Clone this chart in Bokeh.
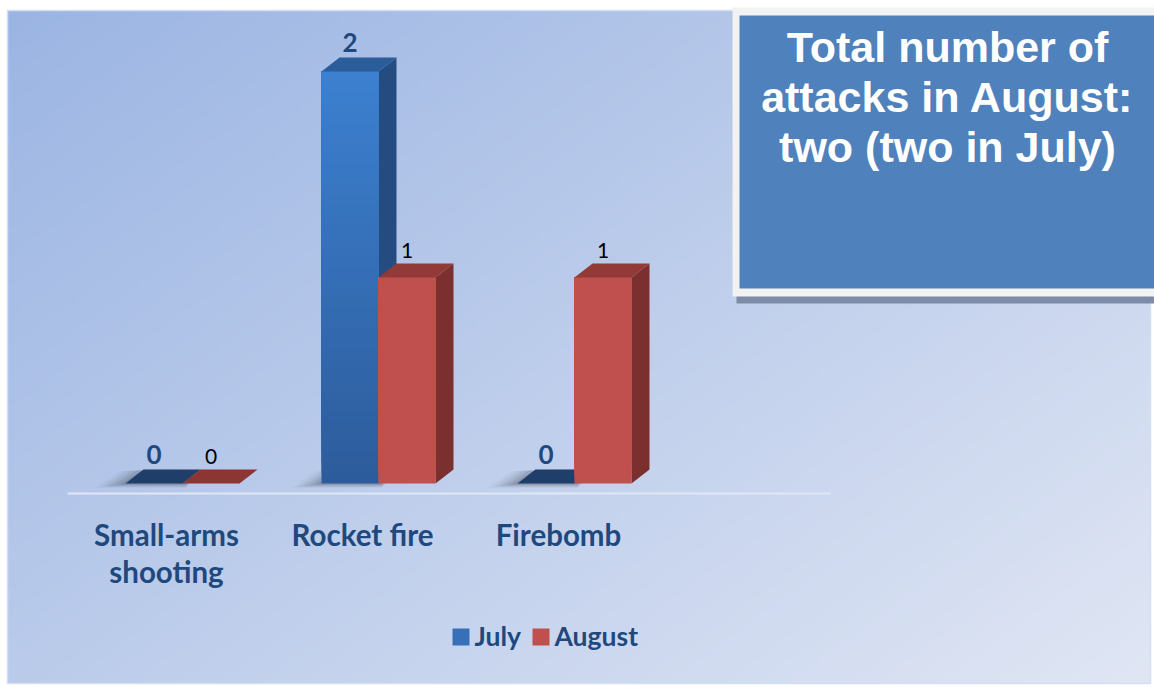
import numpy as np
from bokeh.plotting import figure
from bokeh.embed import file_html
from bokeh.resources import INLINE
from bokeh.core.properties import value

# ---------------- data ----------------
categories = ["Small-arms\nshooting", "Rocket fire", "Firebomb"]
series_names = ["July", "August"]
july = [0, 2, 0]
august = [0, 1, 1]
title_lines = ["Total number of", "attacks in August:", "two (two in July)"]

# ---------------- layout helpers ----------------
W, H = 1154, 687
PX_X = 196.0   # pixels per category
PX_Y = 206.0   # pixels per attack
XS = -182.0 / PX_X
XE = XS + W / PX_X
YE = 483.0 / PX_Y
YS = YE - H / PX_Y
K = 0.36       # baseline correction (fraction of font size)


def X(px):
    return XS + px / PX_X


def Y(py):
    return YE - py / PX_Y


def dpx(n):
    return n / PX_X


def dpy(n):
    return n / PX_Y


def YT(py, size):
    """y position for text whose alphabetic baseline should sit at pixel py"""
    return Y(py - K * size)


p = figure(width=W, height=H, x_range=(XS, XE), y_range=(YS, YE),
           output_backend="svg", toolbar_location=None, min_border=0,
           background_fill_color="white", border_fill_color="white")
p.axis.visible = False
p.grid.visible = False
p.outline_line_color = None

# ---------------- background gradient ----------------
gh, gw = 140, 240
img = np.empty((gh, gw), dtype=np.uint32)
view = img.view(dtype=np.uint8).reshape((gh, gw, 4))
c0 = np.array([155, 181, 227], dtype=float)
c1 = np.array([224, 230, 244], dtype=float)
u = np.linspace(0, 1, gw)[None, :]
v = (1 - np.linspace(0, 1, gh))[:, None]
t = np.clip(0.55 * u + 0.45 * v, 0, 1)
for k in range(3):
    view[:, :, k] = (c0[k] + (c1[k] - c0[k]) * t).astype(np.uint8)
view[:, :, 3] = 255
x0b, x1b, y0b, y1b = X(7), X(1150), Y(683), Y(10)
p.image_rgba(image=[img], x=x0b, y=y0b, dw=x1b - x0b, dh=y1b - y0b)
p.quad(left=[x0b], right=[x1b], bottom=[y0b], top=[y1b], fill_color=None,
       line_color="#d3def1", line_width=1.5)

# baseline (category axis line)
p.segment(x0=[X(67)], x1=[X(830)], y0=[0 - dpy(10)], y1=[0 - dpy(10)],
          line_color="#dfe7f6", line_width=2)

# ---------------- 3D bars ----------------
BW = dpx(57)
DX = dpx(18)
DY = dpy(14)


def lerp(a, b, f):
    return "#%02x%02x%02x" % tuple(int(round(a[i] + (b[i] - a[i]) * f)) for i in range(3))


# soft shadows at each group's base
for i in range(len(categories)):
    left = i - BW
    for s, a in [(30, 0.04), (24, 0.06), (18, 0.08), (12, 0.10), (6, 0.13)]:
        xs = [left - dpx(s), left + dpx(60), left + dpx(60) + DX, left - dpx(s) + DX + dpx(6)]
        ys = [0 - dpy(s * 0.15), 0 - dpy(s * 0.15), DY - dpy(s * 0.05), DY - dpy(s * 0.05)]
        p.patch(xs, ys, fill_color="#232a38", fill_alpha=a, line_color=None)

specs = [
    # values, offset, front bottom, front top, top face, top face (zero), side
    (july, -1, (45, 92, 155), (60, 128, 208), "#2b5d9a", "#1f3e69", "#244c80"),
    (august, 0, (192, 80, 77), (192, 80, 77), "#923a37", "#8c3634", "#7b2f2e"),
]
for vals, off, cb, ct, ctop, ctop0, cside in specs:
    for i, val in enumerate(vals):
        x0 = i + off * BW if off < 0 else i
        x1 = x0 + BW
        if val > 0:
            # side face
            p.patch([x1, x1 + DX, x1 + DX, x1], [0, DY, val + DY, val],
                    fill_color=cside, line_color=None)
            # front face (vertical shading, overlapping slices)
            n = 40
            bots = [val * k / n for k in range(n)]
            cols = [lerp(cb, ct, (k + 0.5) / n) for k in range(n)]
            p.quad(left=[x0] * n, right=[x1] * n, bottom=bots, top=[val] * n,
                   fill_color=cols, line_color=None)
        # top face
        p.patch([x0, x1, x1 + DX, x0 + DX], [val, val, val + DY, val + DY],
                fill_color=ctop if val > 0 else ctop0, line_color=None)

# ---------------- data labels ----------------
p.text(x=[i - BW / 2 for i in range(len(july))],
       y=[vv + dpy(20 + K * 26) for vv in july],
       text=[str(vv) for vv in july],
       text_font=value("Lato"), text_font_style="bold", text_font_size="26px",
       text_color="#1f497d", text_align="center", text_baseline="alphabetic")
p.text(x=[i + BW / 2 for i in range(len(august))],
       y=[vv + dpy(19 + K * 21) for vv in august],
       text=[str(vv) for vv in august],
       text_font=value("Lato"), text_font_size="21px",
       text_color="#000000", text_align="center", text_baseline="alphabetic")

# ---------------- category labels ----------------
CS = 29.5
lx, ly, lt = [], [], []
for i, c in enumerate(categories):
    for j, line in enumerate(c.split("\n")):
        lx.append(i - dpx(16))
        ly.append(YT(545 + 37 * j, CS))
        lt.append(line)
p.text(x=lx, y=ly, text=lt, text_font=value("Lato"), text_font_style="bold",
       text_font_size="%.1fpx" % CS, text_color="#1f497d", text_align="center",
       text_baseline="alphabetic")

# ---------------- legend ----------------
LS = 26.5
p.quad(left=[X(452), X(532)], right=[X(469), X(549)], bottom=[Y(645), Y(645)],
       top=[Y(628), Y(628)], fill_color=["#3770b8", "#c0504d"], line_color=None)
p.text(x=[X(474), X(554)], y=[YT(645, LS)] * 2, text=series_names,
       text_font=value("Lato"), text_font_style="bold", text_font_size="%.1fpx" % LS,
       text_color="#1f497d", text_align="left", text_baseline="alphabetic")

# ---------------- title box ----------------
p.quad(left=[X(736)], right=[X(1160)], bottom=[Y(303)], top=[Y(290)],
       fill_color="#7d8ca7", line_color=None)
p.quad(left=[X(732)], right=[X(1160)], bottom=[Y(296)], top=[Y(7)],
       fill_color="#f2f2f2", line_color=None)
p.quad(left=[X(739)], right=[X(1160)], bottom=[Y(288)], top=[Y(15)],
       fill_color="#4f81bd", line_color=None)
TS = 43
p.text(x=[X(947)] * 3, y=[YT(62, TS), YT(112, TS), YT(162, TS)], text=title_lines,
       text_font=value("Liberation Sans"), text_font_style="bold",
       text_font_size="%dpx" % TS, text_color="white", text_align="center",
       text_baseline="alphabetic")

open("out.html", "w").write(file_html(p, INLINE))
